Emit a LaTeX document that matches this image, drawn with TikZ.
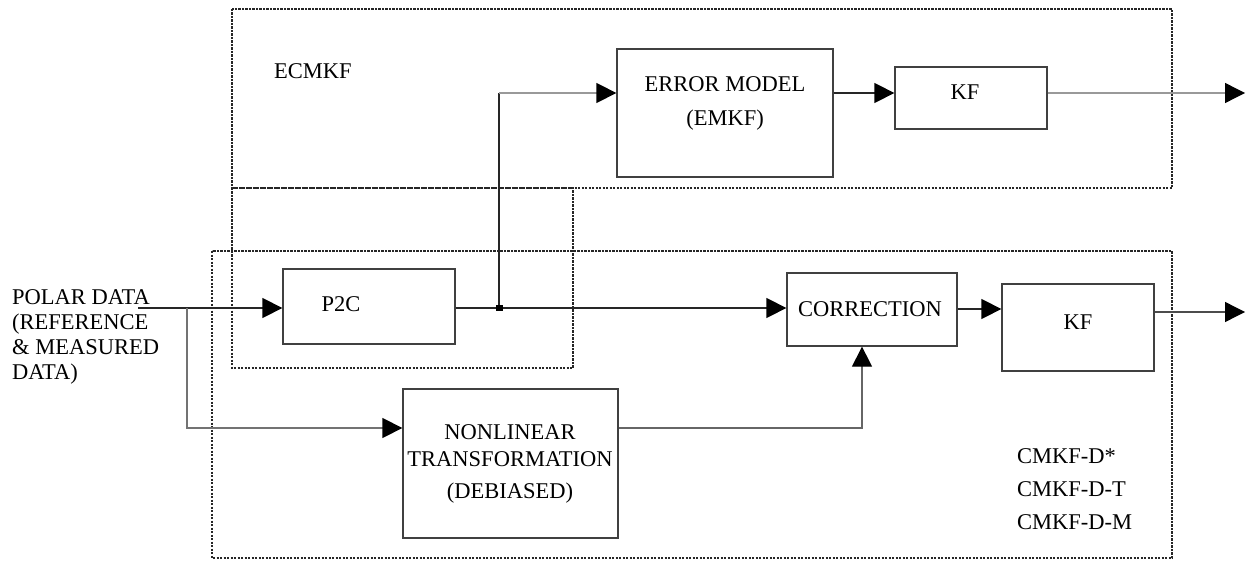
\documentclass[tikz,border=0pt]{standalone}
\usepackage{fontspec}
\setmainfont{Liberation Serif}
\usetikzlibrary{arrows.meta}
\begin{document}
\begin{tikzpicture}[x=1pt,y=-1pt,
  blk/.style={draw=black!75,line width=1.3pt,inner sep=0pt},
  lbl/.style={font=\fontsize{22.5}{27}\selectfont,inner sep=0pt,anchor=base},
  lblw/.style={lbl,anchor=base west},
  grp/.style={draw=black!85,line width=2pt,dash pattern=on 2.2pt off 1.3pt},
  wire/.style={line width=1.3pt,draw=black!85},
  arr/.style={wire,-{Triangle[length=20pt,width=20pt,color=black]}}]
\useasboundingbox (0,0) rectangle (1246,561);

% dotted grouping frames
\draw[grp] (232,9) rectangle (1172,188);
\draw[grp] (232,188) rectangle (573,368);
\draw[grp] (212,251) rectangle (1172,558);

% blocks
\node[blk,minimum width=172pt,minimum height=75pt]  (p2c)  at (369,306.5) {};
\node[blk,minimum width=216pt,minimum height=128pt] (em)   at (725,113) {};
\node[blk,minimum width=152pt,minimum height=62pt]  (kf1)  at (971,98) {};
\node[blk,minimum width=170pt,minimum height=73pt]  (corr) at (872,309.5) {};
\node[blk,minimum width=152pt,minimum height=87pt]  (kf2)  at (1078,327.5) {};
\node[blk,minimum width=215pt,minimum height=149pt] (nl)   at (510.5,463.5) {};

% texts
\node[lblw] (t-ecmkf) at (274,79) {ECMKF};
\node[lblw] (t-pol1) at (12,304) {POLAR DATA};
\node[lblw] (t-pol2) at (12,329) {(REFERENCE};
\node[lblw] (t-pol3) at (12,354) {\& MEASURED};
\node[lblw] (t-pol4) at (12,379) {DATA)};
\node[lbl] (t-p2c) at (341,311) {P2C};
\node[lbl] (t-em1) at (725,92) {ERROR MODEL};
\node[lbl] (t-em2) at (725,126) {(EMKF)};
\node[lbl] (t-kf1) at (965,100) {KF};
\node[lbl] (t-corr) at (870,316) {CORRECTION};
\node[lbl] (t-kf2) at (1078,329) {KF};
\node[lbl] (t-nl1) at (510,439) {NONLINEAR};
\node[lbl] (t-nl2) at (510,466) {TRANSFORMATION};
\node[lbl] (t-nl3) at (510,498) {(DEBIASED)};
\node[lblw] (t-v1) at (1017,463) {CMKF-D*};
\node[lblw] (t-v2) at (1017,496) {CMKF-D-T};
\node[lblw] (t-v3) at (1017,529) {CMKF-D-M};

% connector routing points
\coordinate (in)    at (138,308);
\coordinate (brk)   at (187,308);
\coordinate (lowin) at (187,428);
\coordinate (jn)    at (499,308);
\coordinate (up)    at (499,93);
\coordinate (nlout) at (862,428);
\coordinate (cy)    at (0,309);
\coordinate (out1)  at (1245,93);
\coordinate (out2)  at (1245,312);

% connectors
\draw[arr] (in) -- (in -| p2c.west);
\draw[arr,draw=black!55] (brk) -- (lowin) -- (lowin -| nl.west);
\draw[arr] (in -| p2c.east) -- (in -| corr.west);
\draw[wire] (jn) -- (up);
\draw[arr,draw=black!40] (up) -- (up -| em.west);
\node[fill=black,minimum width=7pt,minimum height=6pt,inner sep=0pt] (dot) at (jn) {};
\draw[arr] (up -| em.east) -- (up -| kf1.west);
\draw[arr,draw=black!40] (up -| kf1.east) -- (out1);
\draw[arr,draw=black!60] (nlout -| nl.east) -- (nlout) -- (nlout |- corr.south);
\draw[arr] (cy -| corr.east) -- (cy -| kf2.west);
\draw[arr,draw=black!70] (out2 -| kf2.east) -- (out2);
\end{tikzpicture}
\end{document}
